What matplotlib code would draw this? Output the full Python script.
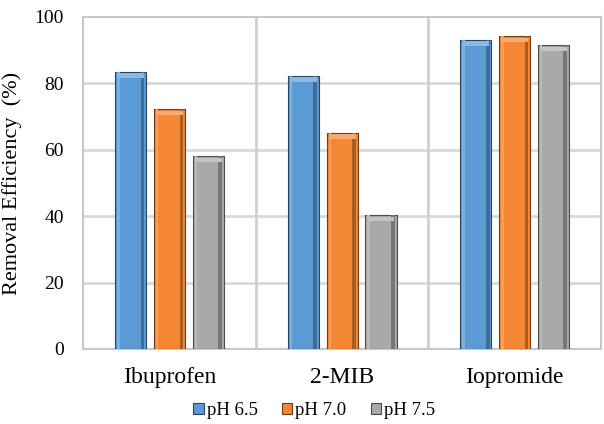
import matplotlib
matplotlib.use("Agg")
import matplotlib.pyplot as plt
import numpy as np
from matplotlib.colors import to_rgb

categories = ["Ibuprofen", "2-MIB", "Iopromide"]
series_names = ["pH 6.5", "pH 7.0", "pH 7.5"]
ph65 = [83.5, 82.2, 93.2]
ph70 = [72.2, 65.0, 94.2]
ph75 = [58.0, 40.2, 91.5]
colors = ["#5B9BD5", "#F58634", "#A9A9A9"]
y_ticks = [0, 20, 40, 60, 80, 100]

plt.rcParams["font.family"] = ["Liberation Serif", "DejaVu Serif"]


def shade(color, factor):
    r, g, b = to_rgb(color)
    if factor < 1:
        return (r * factor, g * factor, b * factor)
    return tuple(c + (1 - c) * (factor - 1) for c in (r, g, b))


fig = plt.figure(figsize=(6.04, 4.24), dpi=100)
ax = fig.add_axes([0.138, 0.177, 0.857, 0.783])

x = np.arange(len(categories))
width = 0.18
step = 0.225
all_values = [ph65, ph70, ph75]

for i, (vals, col, name) in enumerate(zip(all_values, colors, series_names)):
    pos = x + (i - 1) * step
    # main body
    ax.bar(pos, vals, width, color=col, edgecolor=shade(col, 0.45), linewidth=0.8,
           label=name, zorder=3)
    # darker right bevel
    ax.bar(pos + width * 0.38, vals, width * 0.12, color=shade(col, 0.7),
           linewidth=0, zorder=4)
    # lighter left bevel
    ax.bar(pos - width * 0.4, vals, width * 0.08, color=shade(col, 1.2),
           linewidth=0, zorder=4)
    # top bevel
    ax.bar(pos, [1.4] * len(vals), width * 0.86, bottom=[v - 1.8 for v in vals],
           color=shade(col, 1.3), linewidth=0, zorder=5)

ax.set_xlim(-0.5, 2.5)
ax.set_ylim(0, 100)
ax.set_yticks(y_ticks)
ax.set_xticks(x)
ax.set_xticklabels(categories, fontsize=17)
ax.tick_params(axis="y", labelsize=14, length=0, pad=14)
ax.tick_params(axis="x", length=0, pad=13)

for yv in y_ticks[1:-1]:
    ax.axhline(yv, color="#D9D9D9", linewidth=2.0, zorder=1)
for xv in [0.5, 1.5]:
    ax.axvline(xv, color="#D0D0D0", linewidth=2.0, zorder=1)

for side in ["top", "right", "left", "bottom"]:
    ax.spines[side].set_color("#C8C8C8")
    ax.spines[side].set_linewidth(1.5)

ax.set_ylabel("Removal Efficiency  (%)", fontsize=16)
ax.yaxis.set_label_coords(-0.118, 0.5)

fig.legend(loc="lower center", bbox_to_anchor=(0.52, -0.028), ncol=3, frameon=False,
           fontsize=13.5, handlelength=0.55, handleheight=0.55, handletextpad=0.15,
           columnspacing=1.3)

fig.savefig("out.png", dpi=100)
